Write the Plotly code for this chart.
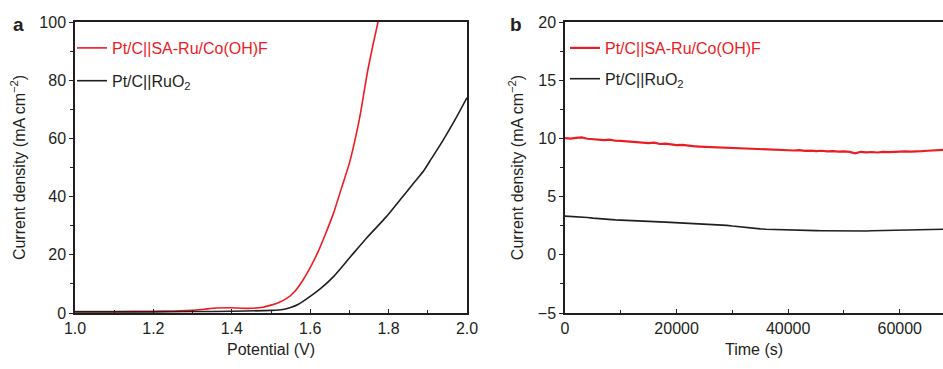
import plotly.graph_objects as go

# ---- Panel a: LSV data ----
v_red = [1.0, 1.1, 1.2, 1.25, 1.3, 1.33, 1.36, 1.4, 1.44, 1.48, 1.5, 1.52, 1.54, 1.56,
         1.58, 1.60, 1.62, 1.64, 1.66, 1.68, 1.70, 1.72, 1.73, 1.745, 1.76, 1.773]
j_red = [0.5, 0.5, 0.6, 0.7, 0.9, 1.3, 1.7, 1.8, 1.6, 2.0, 2.7, 3.6, 5.0, 7.3,
         11.0, 15.6, 21.0, 27.5, 34.5, 43.0, 51.5, 63.0, 70.0, 82.0, 92.0, 100.0]
v_blk = [1.0, 1.2, 1.3, 1.4, 1.5, 1.53, 1.55, 1.57, 1.60, 1.63, 1.66, 1.70, 1.744,
         1.795, 1.83, 1.86, 1.89, 1.91, 1.94, 1.97, 2.0]
j_blk = [0.4, 0.4, 0.5, 0.6, 0.9, 1.2, 1.9, 3.0, 5.7, 8.8, 12.6, 18.9, 25.8,
         33.2, 39.0, 44.0, 49.0, 53.2, 59.6, 66.5, 74.0]

# ---- Panel b: chronoamperometry data (t in 1000 s steps) ----
t_s = [i * 1000 for i in range(69)]
i_red = [10.02, 9.98, 10.05, 10.08, 9.97, 9.93, 9.95, 9.86, 9.90, 9.80,
         9.78, 9.74, 9.70, 9.68, 9.62, 9.60, 9.63, 9.52, 9.55, 9.46,
         9.42, 9.44, 9.36, 9.33, 9.30, 9.28, 9.22, 9.25, 9.18, 9.20,
         9.14, 9.12, 9.16, 9.08, 9.06, 9.10, 9.03, 9.05, 8.99, 9.02,
         8.98, 8.96, 9.00, 8.93, 8.95, 8.90, 8.94, 8.88, 8.91, 8.86,
         8.89, 8.84, 8.72, 8.85, 8.80, 8.83, 8.79, 8.84, 8.82, 8.86,
         8.85, 8.88, 8.86, 8.91, 8.90, 8.94, 8.96, 8.99, 9.02]
i_blk = [3.32, 3.30, 3.28, 3.25, 3.20, 3.15, 3.10, 3.06, 3.03, 3.00,
         2.98, 2.95, 2.93, 2.90, 2.88, 2.86, 2.85, 2.83, 2.81, 2.79,
         2.77, 2.75, 2.73, 2.71, 2.69, 2.67, 2.65, 2.62, 2.58, 2.53,
         2.47, 2.41, 2.35, 2.30, 2.26, 2.23, 2.20, 2.18, 2.16, 2.14,
         2.13, 2.12, 2.11, 2.10, 2.09, 2.08, 2.07, 2.06, 2.05, 2.05,
         2.04, 2.04, 2.04, 2.05, 2.05, 2.06, 2.07, 2.08, 2.09, 2.10,
         2.11, 2.13, 2.14, 2.15, 2.16, 2.17, 2.18, 2.19, 2.20]

name_red = "Pt/C||SA-Ru/Co(OH)F"
name_blk = "Pt/C||RuO<sub>2</sub>"

RED = "#ec1c24"
BLK = "#231f20"
FONT = "Liberation Sans, Arial, sans-serif"
W, H = 943, 369
FS = 16

fig = go.Figure()
fig.add_trace(go.Scatter(x=v_red, y=j_red, mode="lines", line=dict(color=RED, width=1.6, shape="spline", smoothing=0.6),
                         name=f"<span style='color:{RED}'>{name_red}</span>",
                         legend="legend", legendgroup="r1"))
fig.add_trace(go.Scatter(x=v_blk, y=j_blk, mode="lines", line=dict(color=BLK, width=1.6, shape="spline", smoothing=0.8),
                         name=name_blk, legend="legend", legendgroup="b1"))
fig.add_trace(go.Scatter(x=t_s, y=i_red, mode="lines", line=dict(color=RED, width=2.2),
                         name=f"<span style='color:{RED}'>{name_red}</span>",
                         xaxis="x2", yaxis="y2", legend="legend2", legendgroup="r2"))
fig.add_trace(go.Scatter(x=t_s, y=i_blk, mode="lines", line=dict(color=BLK, width=1.6),
                         name=name_blk, xaxis="x2", yaxis="y2", legend="legend2", legendgroup="b2"))

ydom = [(H - 313) / H, (H - 22) / H]
axis_common = dict(showgrid=False, zeroline=False, showline=True, linecolor=BLK, linewidth=1.5,
                   tickfont=dict(family=FONT, size=FS, color=BLK), ticklen=4, tickwidth=1.2,
                   tickcolor=BLK, automargin=False)
title_font = dict(family=FONT, size=FS, color=BLK)

fig.update_layout(
    width=W, height=H, margin=dict(l=0, r=0, t=0, b=0, autoexpand=False),
    paper_bgcolor="white", plot_bgcolor="white",
    font=dict(family=FONT, size=FS, color=BLK),
    xaxis=dict(domain=[75 / W, 467 / W], range=[1.0, 2.0], dtick=0.2, tickformat=".1f",
               ticks="inside", mirror=True, anchor="y",
               minor=dict(ticks="inside", dtick=0.1, ticklen=3, tickcolor=BLK),
               title=dict(text="Potential (V)", font=title_font, standoff=8), **axis_common),
    yaxis=dict(domain=ydom, range=[0, 100], dtick=20, ticks="outside", mirror=True, anchor="x",
               minor=dict(ticks="outside", dtick=10, ticklen=3, tickcolor=BLK),
               title=dict(text="Current density (mA cm<sup>−2</sup>)", font=title_font, standoff=10),
               **axis_common),
    xaxis2=dict(domain=[565 / W, 1.0], range=[0, 67750], dtick=20000, tickformat="d",
                ticks="inside", mirror=True, anchor="y2",
                minor=dict(ticks="inside", dtick=10000, ticklen=3, tickcolor=BLK),
                title=dict(text="Time (s)", font=title_font, standoff=8), **axis_common),
    yaxis2=dict(domain=ydom, range=[-5, 20], dtick=5, ticks="outside", mirror=False, anchor="x2",
                minor=dict(ticks="outside", dtick=2.5, ticklen=3, tickcolor=BLK),
                title=dict(text="Current density (mA cm<sup>−2</sup>)", font=title_font, standoff=10),
                **axis_common),
    legend=dict(x=72 / W, y=(H - 31) / H, xanchor="left", yanchor="top", bgcolor="rgba(0,0,0,0)",
                font=dict(family=FONT, size=FS, color=BLK), tracegroupgap=9),
    legend2=dict(x=565 / W, y=(H - 31) / H, xanchor="left", yanchor="top", bgcolor="rgba(0,0,0,0)",
                 font=dict(family=FONT, size=FS, color=BLK), tracegroupgap=7),
    annotations=[
        dict(text="<b>a</b>", x=11 / W, y=(H - 12) / H, xref="paper", yref="paper",
             xanchor="left", yanchor="top", showarrow=False, font=dict(family=FONT, size=19, color=BLK)),
        dict(text="<b>b</b>", x=508 / W, y=(H - 12) / H, xref="paper", yref="paper",
             xanchor="left", yanchor="top", showarrow=False, font=dict(family=FONT, size=19, color=BLK)),
    ],
)

fig.write_html("out.html", config={"displayModeBar": False},
               post_script="document.body.style.margin='0';")
